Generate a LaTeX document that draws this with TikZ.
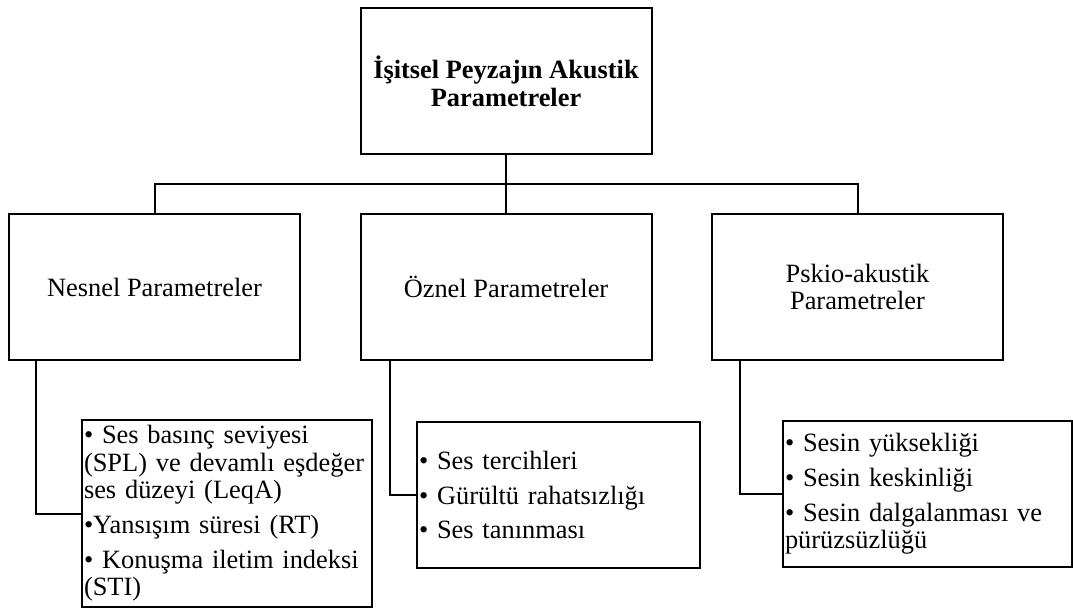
\documentclass[tikz,border=0pt]{standalone}
\usepackage{fontspec}
\setmainfont{Liberation Serif}

\tikzset{
  box/.style={draw,minimum width=145.5pt,minimum height=73pt,align=center,inner sep=2pt,font=\fontsize{13.2}{13.5}\selectfont},
  listbox/.style={draw,align=left,inner xsep=1pt,inner ysep=0pt,font=\fontsize{13.2}{13.75}\selectfont}
}

\begin{document}
\begin{tikzpicture}[x=0.5pt,y=-0.5pt,line width=1pt]

\useasboundingbox (0,0) rectangle (1073,610);

\node[box,font=\bfseries\fontsize{13.2}{14}\selectfont] (top) at (506,81) {İşitsel Peyzajın Akustik\\Parametreler};

\node[box] (nesnel) at (154.5,287) {Nesnel Parametreler};
\node[box] (oznel) at (506,287) {Öznel Parametreler};
\node[box] (pskio) at (857.5,287) {Pskio-akustik\\Parametreler};

\node[listbox,text width=143pt,minimum height=93.5pt] (list1) at (227,513.5) {%
• Ses basınç seviyesi\\(SPL) ve devamlı eşdeğer\\ses düzeyi (LeqA)\\[3.7pt]
•Yansışım süresi (RT)\\[3.7pt]
• Konuşma iletim indeksi\\(STI)};
\node[listbox,text width=139.5pt,minimum height=73pt] (list2) at (558.5,495) {%
• Ses tercihleri\\[3.7pt]
• Gürültü rahatsızlığı\\[3.7pt]
• Ses tanınması};
\node[listbox,text width=142.5pt,minimum height=73pt] (list3) at (927.5,494) {%
• Sesin yüksekliği\\[3.7pt]
• Sesin keskinliği\\[3.7pt]
• Sesin dalgalanması ve\\pürüzsüzlüğü};

% tree lines
\coordinate (bus) at (0,184);
\draw (top.south) -- (oznel.north);
\draw (nesnel.north) -- (nesnel.north |- bus) -- (pskio.north |- bus) -- (pskio.north);

\draw ([xshift=14pt]nesnel.south west) |- (list1.west);
\draw ([xshift=15pt]oznel.south west) |- (list2.west);
\draw ([xshift=14.5pt]pskio.south west) |- (list3.west);

\end{tikzpicture}
\end{document}
